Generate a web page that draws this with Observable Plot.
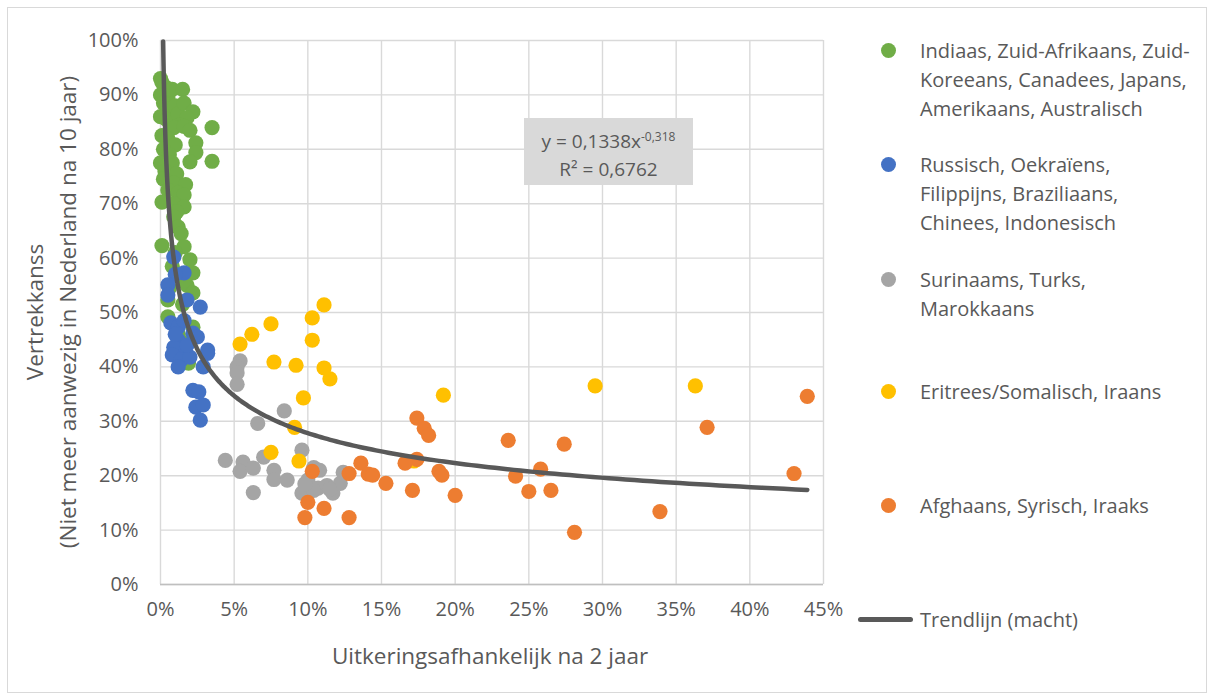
<!DOCTYPE html>
<html>
<head>
<meta charset="utf-8">
<script src="https://cdn.jsdelivr.net/npm/d3@7"></script>
<script src="https://cdn.jsdelivr.net/npm/@observablehq/plot@0.6"></script>
<style>
  body { margin:0; background:#fff; font-family: "Open Sans", Lato, sans-serif; }
  #wrap { position:relative; width:1215px; height:700px; overflow:hidden; }
  #frame { position:absolute; left:7px; top:7px; width:1200px; height:686px; border:1px solid #d9d9d9; box-sizing:border-box; }
  #chart { position:absolute; left:0; top:0; }
  .abs { position:absolute; color:#595959; }
  #eq { left:524px; top:118px; width:169px; height:67px; background:#d9d9d9; font-size:19px; text-align:center; line-height:28px; padding-top:5px; box-sizing:border-box; }
  #ytitle { left:51px; top:312px; transform:translate(-50%,-50%) rotate(-90deg); font-size:22.5px; text-align:center; white-space:nowrap; line-height:33px; }
  #xtitle { left:490px; top:655px; transform:translate(-50%,-50%); font-size:22.5px; white-space:nowrap; }
  .leg { position:absolute; left:920px; font-size:20px; line-height:29px; color:#595959; white-space:nowrap; }
  .dot { position:absolute; width:15px; height:15px; border-radius:50%; left:881px; }
  .tl { position:absolute; left:858px; width:55px; height:5px; border-radius:3px; background:#595959; top:617px; }
</style>
</head>
<body>
<div id="wrap">
  <div id="frame"></div>
  <div id="chart"></div>
</div>
<script>
// ---- data (percent units) ----
const seriesNames = [
  "Indiaas, Zuid-Afrikaans, Zuid-Koreeans, Canadees, Japans, Amerikaans, Australisch",
  "Russisch, Oekraïens, Filippijns, Braziliaans, Chinees, Indonesisch",
  "Surinaams, Turks, Marokkaans",
  "Eritrees/Somalisch, Iraans",
  "Afghaans, Syrisch, Iraaks"
];
const legendLines = [
  ["Indiaas, Zuid-Afrikaans, Zuid-", "Koreeans, Canadees, Japans,", "Amerikaans, Australisch"],
  ["Russisch, Oekraïens,", "Filippijns, Braziliaans,", "Chinees, Indonesisch"],
  ["Surinaams, Turks,", "Marokkaans"],
  ["Eritrees/Somalisch, Iraans"],
  ["Afghaans, Syrisch, Iraaks"]
];
const trendLabel = "Trendlijn (macht)";
const colors = ["#70AD47", "#4472C4", "#A5A5A5", "#FFC000", "#ED7D31"];

const green = [[0.0,93.0],[0.1,92.3],[0.3,91.5],[0.0,90.0],[0.5,89.5],[0.8,91.0],[0.2,88.5],[0.6,87.5],[1.0,88.0],[0.0,86.0],[0.4,85.5],[1.2,86.5],[1.5,91.0],[1.6,88.5],[2.2,86.9],[1.8,85.8],[1.3,84.5],[3.5,84.0],[0.9,84.0],[1.6,84.2],[2.0,83.5],[0.1,82.5],[0.5,82.0],[1.0,80.8],[2.4,81.2],[0.2,80.0],[0.6,79.0],[2.4,79.4],[0.0,77.5],[0.8,77.5],[2.0,77.7],[3.5,77.8],[0.3,76.0],[0.6,75.0],[1.1,75.5],[0.2,74.5],[0.9,73.8],[1.7,73.5],[0.5,72.5],[1.2,72.0],[1.6,71.6],[0.1,70.3],[0.9,70.0],[1.6,69.4],[1.1,68.5],[0.9,67.6],[1.2,65.7],[1.4,64.5],[0.1,62.3],[1.6,62.1],[1.0,61.0],[2.0,59.7],[0.8,58.5],[2.2,57.3],[1.3,56.5],[1.8,55.0],[0.6,54.5],[2.2,53.6],[0.5,52.3],[1.5,51.5],[0.5,49.2],[2.2,47.3],[1.2,46.0],[1.9,40.7],[1.5,44.5]];
const blue = [[0.9,60.2],[1.6,57.3],[1.0,57.0],[0.5,55.1],[0.5,53.2],[1.8,52.3],[2.7,51.0],[0.7,48.1],[1.2,47.3],[2.2,46.2],[1.2,44.9],[1.6,43.6],[0.9,43.6],[0.8,42.2],[1.4,41.3],[3.2,43.1],[3.2,42.5],[2.9,40.0],[2.0,41.8],[1.2,40.0],[1.8,44.0],[2.2,35.7],[2.6,35.4],[2.4,32.6],[2.9,33.0],[2.7,30.2],[1.6,48.5],[2.5,45.5],[1.0,46.0]];
const gray = [[5.4,41.1],[5.2,40.0],[5.2,38.9],[5.2,36.8],[8.4,31.9],[6.6,29.6],[9.6,24.7],[4.4,22.8],[5.6,22.5],[5.4,20.8],[6.3,21.4],[7.0,23.4],[7.7,21.0],[7.7,19.3],[8.6,19.2],[6.3,16.9],[10.4,21.5],[10.0,19.2],[9.6,16.8],[10.7,17.7],[11.3,18.2],[11.7,16.8],[12.2,18.6],[12.4,20.6],[10.4,17.3],[9.8,18.5],[10.8,21.0],[11.5,17.5]];
const yellow = [[11.1,51.4],[10.3,49.0],[7.5,47.9],[6.2,46.0],[5.4,44.2],[10.3,44.9],[7.7,40.9],[9.2,40.3],[11.1,39.8],[11.5,37.8],[9.7,34.3],[9.1,28.9],[7.5,24.3],[9.4,22.7],[17.2,22.7],[19.2,34.8],[29.5,36.5],[36.3,36.5]];
const orange = [[43.9,34.6],[37.1,28.9],[27.4,25.8],[43.0,20.4],[33.9,13.4],[28.1,9.6],[17.4,30.6],[17.9,28.7],[18.2,27.4],[23.6,26.5],[17.4,23.0],[16.6,22.3],[25.8,21.2],[18.9,20.8],[19.1,20.1],[24.1,19.9],[13.6,22.3],[14.1,20.3],[14.4,20.1],[15.3,18.6],[17.1,17.3],[20.0,16.4],[25.0,17.1],[26.5,17.3],[10.3,20.8],[12.8,20.4],[10.0,15.1],[11.1,14.0],[9.8,12.3],[12.8,12.3]];

// trend line coefficients as shown in the chart: y = 0.1338 x^-0.318
const trendA = 0.1338, trendB = -0.318;
const trendRange = [0.18, 43.9];

const xTicks = [0,5,10,15,20,25,30,35,40,45];
const yTicks = [0,10,20,30,40,50,60,70,80,90,100];

// ---- build ----
const groups = [green, blue, gray, yellow, orange];
const pts = groups.flatMap((g, i) => g.map(([x, y]) => ({x, y, s: i})));
const trend = d3.range(0, 301).map(i => {
  const x = trendRange[0] * Math.pow(trendRange[1] / trendRange[0], i / 300);
  return {x, y: 100 * trendA * Math.pow(x / 100, trendB)};
});

const chart = Plot.plot({
  width: 1215, height: 700,
  marginLeft: 160, marginRight: 392, marginTop: 40, marginBottom: 116,
  x: {domain: [0, 45]},
  y: {domain: [0, 100]},
  style: {fontFamily: "'Open Sans', Lato, sans-serif", fontSize: "20px", color: "#595959", background: "transparent", overflow: "visible"},
  marks: [
    Plot.gridX(xTicks, {stroke: "#d9d9d9", strokeOpacity: 1, strokeWidth: 1.4}),
    Plot.gridY(yTicks, {stroke: "#d9d9d9", strokeOpacity: 1, strokeWidth: 1.4}),
    Plot.ruleY([0], {stroke: "#bfbfbf", strokeWidth: 1.4}),
    Plot.axisX(xTicks, {tickSize: 0, tickPadding: 17, tickFormat: d => d + "%", label: null, fill: "#595959"}),
    Plot.axisY(yTicks, {tickSize: 0, tickPadding: 22, tickFormat: d => d + "%", label: null, fill: "#595959"}),
    ...groups.map((g, i) => Plot.dot(pts.filter(d => d.s === i), {x: "x", y: "y", r: 7.6, fill: colors[i], stroke: "none"})),
    Plot.line(trend, {x: "x", y: "y", stroke: "#595959", strokeWidth: 4.5, strokeLinecap: "round", curve: "linear"})
  ]
});
document.getElementById("chart").appendChild(chart);

const wrap = document.getElementById("wrap");
function add(html) { wrap.insertAdjacentHTML("beforeend", html); }
add(`<div id="eq" class="abs">y = 0,1338x<sup style="font-size:12px;vertical-align:7px">-0,318</sup><br>R² = 0,6762</div>`);
add(`<div id="ytitle" class="abs">Vertrekkanss<br>(Niet meer aanwezig in Nederland na 10 jaar)</div>`);
add(`<div id="xtitle" class="abs">Uitkeringsafhankelijk na 2 jaar</div>`);
const legTops = [50, 164, 279, 391, 505];
legendLines.forEach((lines, i) => {
  add(`<div class="dot" style="top:${legTops[i] - 7.5}px;background:${colors[i]}"></div>`);
  add(`<div class="leg" style="top:${legTops[i] - 14.5}px">${lines.join("<br>")}</div>`);
});
add(`<div class="tl"></div>`);
add(`<div class="leg" style="top:${619 - 14.5}px">${trendLabel}</div>`);
</script>
</body>
</html>
